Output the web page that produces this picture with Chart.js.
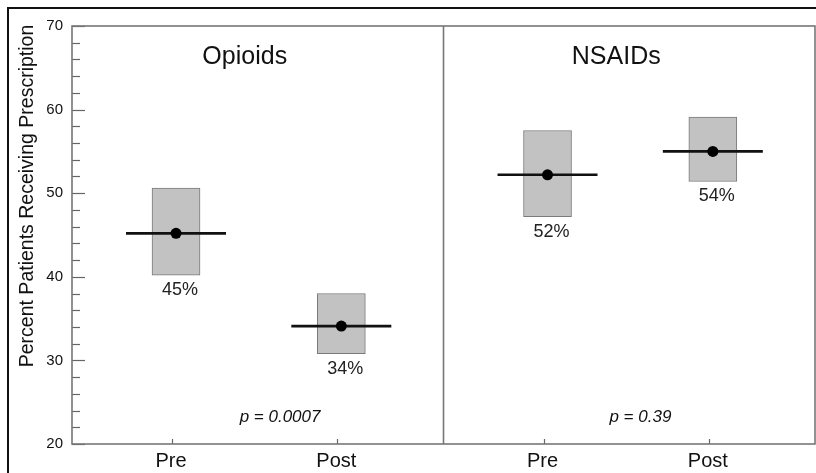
<!DOCTYPE html>
<html>
<head>
<meta charset="utf-8">
<script src="https://cdn.jsdelivr.net/npm/chart.js@4.4.1/dist/chart.umd.min.js"></script>
<style>
  html, body { margin: 0; padding: 0; background: #fff; }
  #wrap { position: relative; width: 816px; height: 473px; overflow: hidden; }
  #frame { position: absolute; left: 7px; top: 7px; width: 900px; height: 600px;
           border-left: 2px solid #111; border-top: 2px solid #111; pointer-events: none; }
  canvas { position: absolute; left: 0; top: 0; }
</style>
</head>
<body>
<div id="wrap">
  <canvas id="chart" width="816" height="473"></canvas>
  <div id="frame"></div>
</div>
<script>
// data
const categories = ['Pre', 'Post'];
const panels = ['Opioids', 'NSAIDs'];
const opioidMeans = [45.2, 34.1];
const opioidLow = [40.2, 30.8];
const opioidHigh = [50.6, 38.0];
const opioidPct = [45, 34];
const nsaidMeans = [52.2, 55.0];
const nsaidLow = [47.2, 51.4];
const nsaidHigh = [57.5, 59.1];
const nsaidPct = [52, 54];
const pValues = ['0.0007', '0.39'];
const yTitle = 'Percent Patients Receiving Prescription';
const yMin = 20;
const yMax = 70;

// layout: each panel spans one x unit, slots sit at these fractions of it
const slotOffset = [0.28, 0.725];
const titleOffset = 0.465;
const pOffset = [0.56, 0.53];

const FONT = '"Liberation Sans", Arial, Helvetica, sans-serif';
const means = [opioidMeans, nsaidMeans];
const lows = [opioidLow, nsaidLow];
const highs = [opioidHigh, nsaidHigh];
const pcts = [opioidPct, nsaidPct];

const boxData = [];
const meanData = [];
const pctLabels = [];
const tickPos = [];
const tickText = [];
panels.forEach((p, pi) => {
    categories.forEach((c, ci) => {
        const x = pi + slotOffset[ci];
        boxData.push({ x, y: [lows[pi][ci], highs[pi][ci]] });
        meanData.push({ x, y: means[pi][ci] });
        pctLabels.push(pcts[pi][ci] + '%');
        tickPos.push(x);
        tickText.push(c);
    });
});

const decorations = {
    id: 'decorations',
    afterDraw(chart) {
        const { ctx, chartArea: a, scales: { x, y } } = chart;
        ctx.save();
        // y ticks drawn inward
        ctx.strokeStyle = '#666';
        ctx.lineWidth = 1.2;
        for (let v = yMin; v <= yMax; v += 2) {
            const py = Math.round(y.getPixelForValue(v)) + 0.5;
            const len = v % 10 === 0 ? 13 : 8;
            ctx.beginPath();
            ctx.moveTo(a.left, py);
            ctx.lineTo(a.left + len, py);
            ctx.stroke();
        }
        // small x ticks
        tickPos.forEach((v) => {
            const px = Math.round(x.getPixelForValue(v)) - 3.5;
            ctx.beginPath();
            ctx.moveTo(px, a.bottom);
            ctx.lineTo(px, a.bottom - 5);
            ctx.stroke();
        });
        // plot frame and panel divider
        ctx.strokeStyle = '#777';
        ctx.lineWidth = 1.6;
        ctx.strokeRect(a.left, a.top, a.right - a.left, a.bottom - a.top);
        const dx = x.getPixelForValue(1);
        ctx.beginPath();
        ctx.moveTo(dx, a.top);
        ctx.lineTo(dx, a.bottom);
        ctx.stroke();

        ctx.fillStyle = '#111';
        ctx.textAlign = 'center';
        ctx.textBaseline = 'middle';
        // y axis title, set a little above the axis middle as in the original
        ctx.save();
        ctx.translate(28, 196);
        ctx.rotate(-Math.PI / 2);
        ctx.font = '19.5px ' + FONT;
        ctx.fillText(yTitle, 0, 0);
        ctx.restore();
        // panel titles
        ctx.font = '25px ' + FONT;
        panels.forEach((p, pi) => {
            ctx.fillText(p, x.getPixelForValue(pi + titleOffset), y.getPixelForValue(66.3));
        });
        // p values
        ctx.font = 'italic 17px ' + FONT;
        pValues.forEach((pv, pi) => {
            ctx.fillText('p = ' + pv, x.getPixelForValue(pi + pOffset[pi]), a.bottom - 27);
        });
        // percentage labels under each box
        ctx.font = '18px ' + FONT;
        ctx.fillStyle = '#222';
        chart.getDatasetMeta(0).data.forEach((el, i) => {
            const bottom = Math.max(el.y, el.base);
            ctx.fillText(pctLabels[i], el.x + 4, bottom + 15);
        });
        ctx.restore();
    },
};

new Chart(document.getElementById('chart'), {
    data: {
        datasets: [
            {
                type: 'bar',
                label: 'range',
                data: boxData,
                backgroundColor: '#c2c2c2',
                borderColor: '#7a7a7a',
                borderWidth: 1,
                borderSkipped: false,
                barThickness: 48,
                grouped: false,
                order: 3,
            },
            {
                type: 'scatter',
                label: 'mean line',
                data: meanData,
                pointStyle: 'line',
                pointRadius: 50,
                pointBorderWidth: 2.6,
                borderColor: '#111',
                order: 2,
            },
            {
                type: 'scatter',
                label: 'mean',
                data: meanData,
                pointRadius: 5.5,
                pointBorderWidth: 0,
                backgroundColor: '#000',
                order: 1,
            },
        ],
    },
    options: {
        responsive: false,
        animation: false,
        events: [],
        layout: { autoPadding: false, padding: { top: 26, right: 1, left: 0, bottom: 0 } },
        scales: {
            x: {
                type: 'linear',
                min: 0,
                max: 2,
                offset: false,
                grid: { display: false },
                border: { display: false },
                afterFit: (scale) => { scale.height = 29; },
                afterBuildTicks: (scale) => {
                    scale.ticks = tickPos.map((v) => ({ value: v }));
                },
                ticks: {
                    autoSkip: false,
                    maxRotation: 0,
                    padding: -3,
                    labelOffset: -5,
                    color: '#111',
                    font: { family: FONT, size: 20 },
                    callback: (value, index) => tickText[index],
                },
            },
            y: {
                min: yMin,
                max: yMax,
                grid: { display: false },
                border: { display: false },
                afterFit: (scale) => { scale.width = 72; },
                ticks: {
                    stepSize: 2,
                    autoSkip: false,
                    padding: 1,
                    color: '#111',
                    font: { family: FONT, size: 15 },
                    callback: (value) => (value % 10 === 0 ? value : ''),
                },
            },
        },
        plugins: {
            legend: { display: false },
            tooltip: { enabled: false },
        },
    },
    plugins: [decorations],
});
</script>
</body>
</html>
